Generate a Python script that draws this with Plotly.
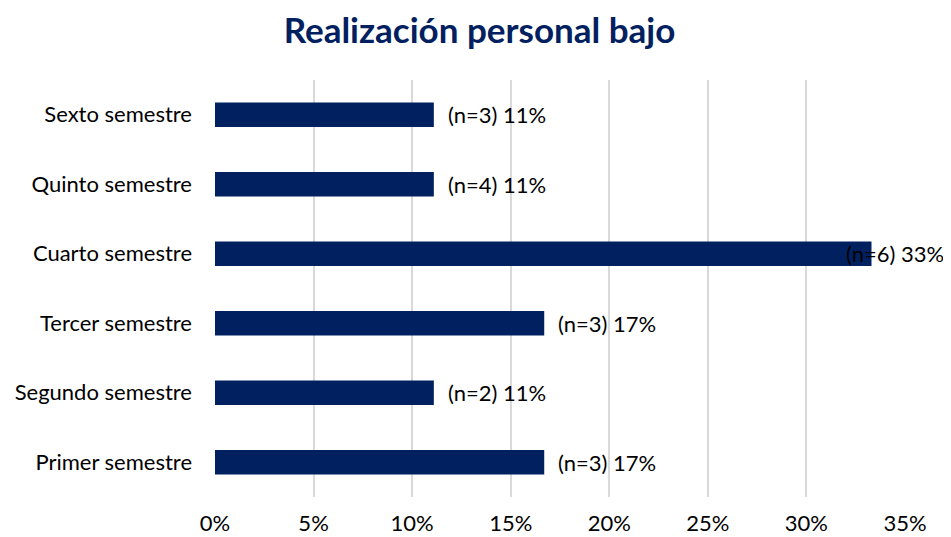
import plotly.graph_objects as go

categories = ["Primer semestre", "Segundo semestre", "Tercer semestre",
              "Cuarto semestre", "Quinto semestre", "Sexto semestre"]
values = [16.7, 11.1, 16.7, 33.3, 11.1, 11.1]
counts = [3, 2, 3, 6, 4, 3]
pct_labels = ["17%", "11%", "17%", "33%", "11%", "11%"]
tick_vals = [0, 5, 10, 15, 20, 25, 30, 35]
tick_text = ["0%", "5%", "10%", "15%", "20%", "25%", "30%", "35%"]

NAVY = "#002060"
FONT = "Lato, Carlito, Calibri, sans-serif"
FS = 22

fig = go.Figure(go.Bar(
    y=categories, x=values, orientation="h",
    marker=dict(color=NAVY, line=dict(width=0)),
    width=0.35, hoverinfo="skip",
))

annotations = []
for c, v, n, p in zip(categories, values, counts, pct_labels):
    txt = f"(n={n}) {p}"
    if v > 30:
        annotations.append(dict(x=1, xref="paper", y=c, yref="y", text=txt,
                                xanchor="right", xshift=41, showarrow=False,
                                font=dict(family=FONT, size=FS, color="#000000")))
    else:
        annotations.append(dict(x=v, y=c, text=txt, xanchor="left", xshift=12,
                                showarrow=False,
                                font=dict(family=FONT, size=FS, color="#000000")))

fig.update_layout(
    width=943, height=529,
    margin=dict(l=207, r=46, t=72, b=40),
    paper_bgcolor="white", plot_bgcolor="white",
    title=dict(text="<b>Realización personal bajo</b>", x=0.5, xanchor="center",
               yref="container", y=0.98, yanchor="top", pad=dict(t=0, b=0),
               font=dict(family=FONT, size=35, color=NAVY)),
    xaxis=dict(range=[0, 35], tickvals=tick_vals, ticktext=tick_text,
               showgrid=True, gridcolor="#d9d9d9", gridwidth=1.5,
               zeroline=False, showline=False, ticks="", automargin=False,
               ticklabelstandoff=11,
               tickfont=dict(family=FONT, size=FS, color="#000000")),
    yaxis=dict(showgrid=False, zeroline=False, showline=False, ticks="",
               automargin=False, ticklabelstandoff=22,
               tickfont=dict(family=FONT, size=FS, color="#000000")),
    annotations=annotations,
    showlegend=False,
    font=dict(family=FONT),
)

fig.write_html("out.html")
